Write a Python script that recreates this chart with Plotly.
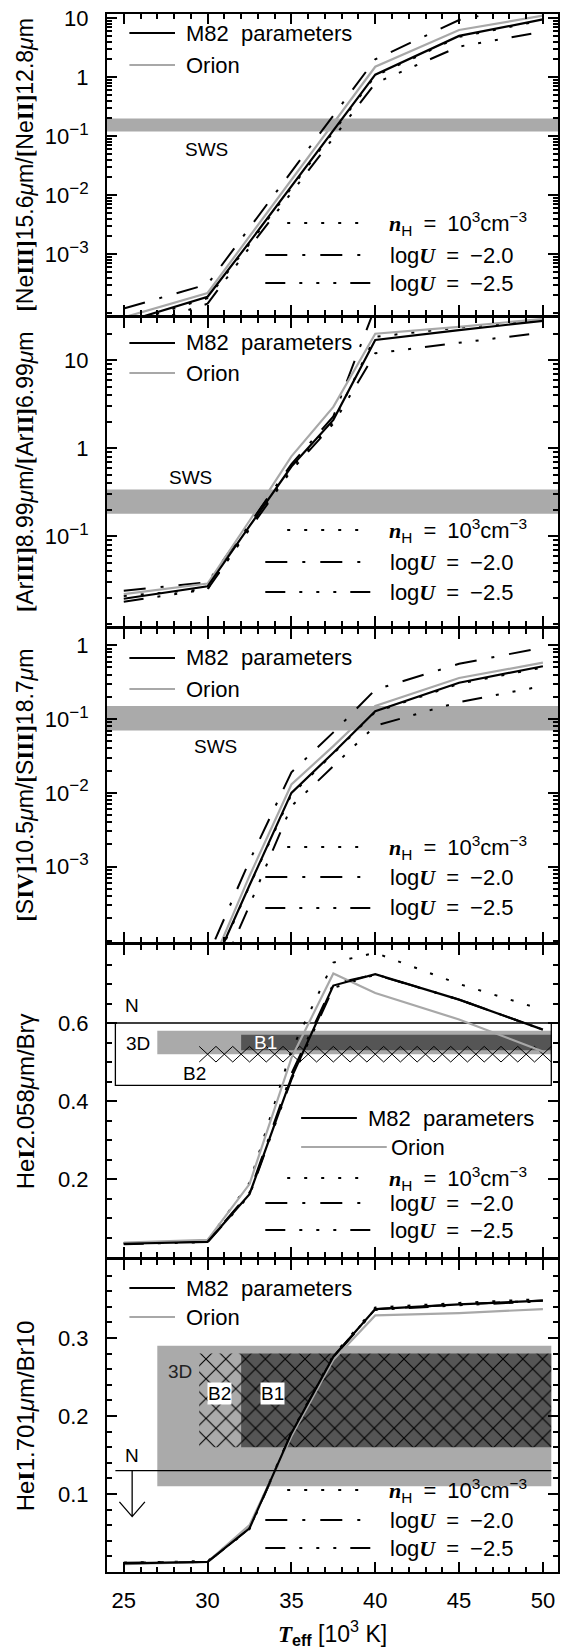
import math
import plotly.graph_objects as go

# ---------------------------------------------------------------- data
teff = [25, 30, 32.5, 35, 37.5, 40, 45, 50]          # T_eff grid [10^3 K]

# [NeIII]15.6um / [NeII]12.8um
ne_m82 = [7.0e-5, 1.9e-4, 1.6e-3, 1.4e-2, 0.125, 1.10, 5.0, 9.5]
ne_orion = [8.5e-5, 2.2e-4, 2.0e-3, 1.8e-2, 0.165, 1.50, 6.3, 11.0]
ne_nh3 = [6.5e-5, 1.8e-4, 1.5e-3, 1.3e-2, 0.118, 1.05, 4.8, 9.2]
ne_logu20 = [1.2e-4, 3.1e-4, 2.8e-3, 2.5e-2, 0.22, 2.0, 9.3, 18.0]
ne_logu25 = [5.0e-5, 1.45e-4, 1.3e-3, 1.1e-2, 0.093, 0.79, 3.3, 5.9]

# [ArIII]8.99um / [ArII]6.99um
ar_m82 = [0.0195, 0.027, 0.13, 0.62, 2.1, 17.0, 22.0, 28.0]
ar_orion = [0.022, 0.029, 0.15, 0.81, 2.95, 20.0, 24.0, 29.5]
ar_nh3 = [0.021, 0.025, 0.125, 0.60, 2.0, 18.5, 23.5, 29.0]
ar_logu20 = [0.024, 0.030, 0.14, 0.66, 2.3, 40.0, 55.0, 65.0]
ar_logu25 = [0.018, 0.025, 0.12, 0.56, 1.9, 12.0, 15.8, 20.6]

# [SIV]10.5um / [SIII]18.7um
s_m82 = [1.0e-5, 3.0e-5, 5.6e-4, 0.010, 0.035, 0.128, 0.31, 0.52]
s_orion = [1.2e-5, 3.5e-5, 7.5e-4, 0.013, 0.043, 0.15, 0.36, 0.58]
s_nh3 = [1.0e-5, 2.8e-5, 5.5e-4, 0.0095, 0.034, 0.125, 0.30, 0.50]
s_logu20 = [2.0e-5, 6.0e-5, 1.2e-3, 0.019, 0.066, 0.25, 0.56, 0.93]
s_logu25 = [5.0e-6, 1.5e-5, 3.0e-4, 0.0066, 0.023, 0.081, 0.17, 0.28]

# HeI2.058um / Br gamma
he2_m82 = [0.034, 0.039, 0.161, 0.46, 0.696, 0.725, 0.66, 0.583]
he2_orion = [0.037, 0.044, 0.187, 0.51, 0.727, 0.677, 0.609, 0.527]
he2_nh3 = [0.036, 0.042, 0.19, 0.53, 0.755, 0.78, 0.70, 0.634]
he2_logu20 = [0.035, 0.040, 0.165, 0.47, 0.70, 0.725, 0.66, 0.583]
he2_logu25 = [0.033, 0.038, 0.158, 0.455, 0.69, 0.724, 0.66, 0.583]

# HeI1.701um / Br10
he1_m82 = [0.011, 0.013, 0.056, 0.178, 0.276, 0.337, 0.343, 0.348]
he1_orion = [0.010, 0.013, 0.060, 0.174, 0.272, 0.329, 0.332, 0.337]
he1_nh3 = [0.012, 0.014, 0.057, 0.179, 0.278, 0.339, 0.345, 0.350]
he1_logu20 = [0.012, 0.013, 0.056, 0.178, 0.276, 0.337, 0.343, 0.348]
he1_logu25 = [0.011, 0.013, 0.055, 0.177, 0.275, 0.336, 0.342, 0.347]

# observed SWS ranges (low, high)
sws_ne = [0.12, 0.20]
sws_ar = [0.18, 0.34]
sws_s = [0.07, 0.15]

# observed HeI2.058/Brg ranges: N (box), 3D, B1, B2  -> x extent, y extent
he2_n_x, he2_n_y = [24.5, 50.5], [0.44, 0.60]
he2_3d_x, he2_3d_y = [27.0, 50.5], [0.52, 0.58]
he2_b1_x, he2_b1_y = [32.0, 50.5], [0.53, 0.57]
he2_b2_x, he2_b2_y = [29.5, 50.5], [0.50, 0.54]

# observed HeI1.701/Br10 ranges
he1_3d_x, he1_3d_y = [27.0, 50.5], [0.11, 0.29]
he1_b2_x, he1_b2_y = [29.5, 32.0], [0.16, 0.28]
he1_b1_x, he1_b1_y = [32.0, 50.5], [0.16, 0.28]
he1_n_x, he1_n_limit = [24.5, 50.5], 0.13

# tick labels
SUP = '<sup><span style="font-size:17px">{}</span></sup>'
x_tickvals = [25, 30, 35, 40, 45, 50]
x_ticktext = ["25", "30", "35", "40", "45", "50"]
ne_tickvals = [1e-3, 1e-2, 1e-1, 1, 10]
ne_ticktext = ["10" + SUP.format("−3"), "10" + SUP.format("−2"), "10" + SUP.format("−1"), "1", "10"]
ar_tickvals = [1e-1, 1, 10]
ar_ticktext = ["10" + SUP.format("−1"), "1", "10"]
s_tickvals = [1e-3, 1e-2, 1e-1, 1]
s_ticktext = ["10" + SUP.format("−3"), "10" + SUP.format("−2"), "10" + SUP.format("−1"), "1"]
he2_tickvals = [0.2, 0.4, 0.6]
he2_ticktext = ["0.2", "0.4", "0.6"]
he1_tickvals = [0.1, 0.2, 0.3]
he1_ticktext = ["0.1", "0.2", "0.3"]

# ---------------------------------------------------------------- style
W, H = 561, 1647
ML, MR, MT, MB = 107, 1, 14, 75
PW, PH = W - ML - MR, H - MT - MB
PANEL_PX = [(14, 315), (318, 626), (629, 942), (945, 1257), (1260, 1572)]

FONT = "Liberation Sans"
SERIF = "Liberation Serif"
FS = 22          # tick labels
FS_LEG = 22      # in-panel legends
FS_TITLE = 23    # axis titles
FS_LAB = 19      # region labels
GRAY = "#a8a8a8"
BAND = "#aaaaaa"
DARK = "#555555"

DOT = "3px,14px"
DASHDOT = "22px,15px,3px,15px"
DASH3DOT = "20px,14px,3px,14px,3px,14px,3px,14px"

STYLES = {
    "nh3": dict(color="black", width=2, dash=DOT),
    "logu20": dict(color="black", width=2, dash=DASHDOT),
    "logu25": dict(color="black", width=2, dash=DASH3DOT),
    "orion": dict(color=GRAY, width=2.2),
    "m82": dict(color="black", width=2.2),
}


def xp(px):
    return (px - ML) / PW


def yp(py):
    return (MT + PH - py) / PH


def rom(s):
    return f'<span style="font-family:{SERIF};font-weight:bold">{s}</span>'


def bi(s):
    return f'<span style="font-family:{SERIF};font-weight:bold;font-style:italic">{s}</span>'


MU = "<i>μ</i>m"
TXT_M82 = "M82\u00a0 parameters"
TXT_ORION = "Orion"
TXT_NH = bi("n") + "<sub>H</sub>\u2002=\u2002" + "10<sup>3</sup>cm<sup>−3</sup>"
TXT_U20 = "log" + bi("U") + "\u2002=\u2002−2.0"
TXT_U25 = "log" + bi("U") + "\u2002=\u2002−2.5"

panels = [
    dict(series=dict(m82=ne_m82, orion=ne_orion, nh3=ne_nh3, logu20=ne_logu20, logu25=ne_logu25),
         log=True, yrange=[-4.03, 1.07], tickvals=ne_tickvals, ticktext=ne_ticktext, minor="D1",
         title=rom("[") + "Ne" + rom("III]") + "15.6" + MU + "/" + rom("[") + "Ne" + rom("II]") + "12.8" + MU,
         tsize=FS_TITLE, sws=sws_ne, sws_lab=(29.96, 0.060),
         top_rows=(33, 65), bot_rows=(223, 255, 283)),
    dict(series=dict(m82=ar_m82, orion=ar_orion, nh3=ar_nh3, logu20=ar_logu20, logu25=ar_logu25),
         log=True, yrange=[-2.02, 1.48], tickvals=ar_tickvals, ticktext=ar_ticktext, minor="D1",
         title=rom("[") + "Ar" + rom("III]") + "8.99" + MU + "/" + rom("[") + "Ar" + rom("II]") + "6.99" + MU,
         tsize=FS_TITLE, sws=sws_ar, sws_lab=(29.0, 0.46),
         top_rows=(343, 373), bot_rows=(530, 562, 592)),
    dict(series=dict(m82=s_m82, orion=s_orion, nh3=s_nh3, logu20=s_logu20, logu25=s_logu25),
         log=True, yrange=[-4.02, 0.22], tickvals=s_tickvals, ticktext=s_ticktext, minor="D1",
         title=rom("[") + "S" + rom("IV]") + "10.5" + MU + "/" + rom("[") + "S" + rom("III]") + "18.7" + MU,
         tsize=FS_TITLE, sws=sws_s, sws_lab=(30.5, 0.043),
         top_rows=(658, 689), bot_rows=(847, 877, 908)),
    dict(series=dict(m82=he2_m82, orion=he2_orion, nh3=he2_nh3, logu20=he2_logu20, logu25=he2_logu25),
         log=False, yrange=[0, 0.8], tickvals=he2_tickvals, ticktext=he2_ticktext, minor=0.05,
         title="He" + rom("I") + "2.058" + MU + "/Brγ",
         tsize=FS_TITLE + 1, sws=None, top_rows=None, bot_rows=(1178, 1203, 1230)),
    dict(series=dict(m82=he1_m82, orion=he1_orion, nh3=he1_nh3, logu20=he1_logu20, logu25=he1_logu25),
         log=False, yrange=[0, 0.4], tickvals=he1_tickvals, ticktext=he1_ticktext, minor=0.02,
         title="He" + rom("I") + "1.701" + MU + "/Br10",
         tsize=FS_TITLE + 1, sws=None, top_rows=(1288, 1317), bot_rows=(1490, 1520, 1548)),
]

fig = go.Figure()
layout = dict(
    width=W, height=H, margin=dict(l=ML, r=MR, t=MT, b=MB),
    paper_bgcolor="white", plot_bgcolor="white", showlegend=False,
    barmode="overlay", font=dict(family=FONT, size=FS, color="black"),
)
shapes, annotations = [], []
tickfont = dict(family=FONT, size=FS, color="black")


def ann(text, x, y, xref, yref, size=FS, **kw):
    d = dict(text=text, x=x, y=y, xref=xref, yref=yref, showarrow=False,
             font=dict(family=FONT, size=size, color=kw.pop("color", "black")))
    d.update(kw)
    annotations.append(d)


def legend_row(y_px, x0, x1, tx, style, text):
    shapes.append(dict(type="line", xref="paper", yref="paper",
                       x0=xp(x0), x1=xp(x1), y0=yp(y_px), y1=yp(y_px),
                       line=dict(color=style["color"], width=2, dash=style.get("dash", "solid"))))
    ann(text, xp(tx), yp(y_px), "paper", "paper", size=FS_LEG, xanchor="left", yanchor="middle")


for i, p in enumerate(panels, start=1):
    sfx = "" if i == 1 else str(i)
    xa, ya = "x" + sfx, "y" + sfx
    last = i == len(panels)
    top_px, bot_px = PANEL_PX[i - 1]

    layout["xaxis" + sfx] = dict(
        domain=[0, 1], range=[24, 50.9], anchor=ya, showgrid=False, zeroline=False,
        showline=True, linewidth=2, linecolor="black", mirror="allticks",
        ticks="inside", ticklen=10, tickwidth=1.5, tickcolor="black",
        tickmode="array", tickvals=x_tickvals, ticktext=x_ticktext,
        showticklabels=last, tickfont=tickfont, ticklabelstandoff=8,
        minor=dict(ticks="inside", ticklen=5, tickwidth=1.5, tickcolor="black",
                   dtick=1, tick0=25, showgrid=False),
    )
    if i > 1:
        layout["xaxis" + sfx]["matches"] = "x"
    layout["yaxis" + sfx] = dict(
        domain=[yp(bot_px), yp(top_px)], anchor=xa, type="log" if p["log"] else "linear",
        range=p["yrange"], showgrid=False, zeroline=False,
        showline=True, linewidth=2, linecolor="black", mirror="allticks",
        ticks="inside", ticklen=10, tickwidth=1.5, tickcolor="black",
        tickmode="array", tickvals=p["tickvals"], ticktext=p["ticktext"],
        tickfont=tickfont, ticklabelstandoff=12,
        minor=dict(ticks="inside", ticklen=5, tickwidth=1.5, tickcolor="black",
                   dtick=p["minor"], showgrid=False),
    )

    # axis title
    ann(p["title"], xp(25), (yp(bot_px) + yp(top_px)) / 2, "paper", "paper", size=p["tsize"],
        textangle=-90, xanchor="center", yanchor="middle")

    # SWS band
    if p["sws"] is not None:
        shapes.append(dict(type="rect", xref=xa + " domain", yref=ya, x0=0, x1=1,
                           y0=p["sws"][0], y1=p["sws"][1], fillcolor=BAND,
                           line=dict(width=0), layer="below"))
        lx, lyv = p["sws_lab"]
        ann("SWS", lx, math.log10(lyv), xa, ya, size=FS_LAB)

    # observed ranges in the HeI panels
    if i == 4:
        shapes.append(dict(type="rect", xref=xa, yref=ya, x0=he2_3d_x[0], x1=he2_3d_x[1],
                           y0=he2_3d_y[0], y1=he2_3d_y[1], fillcolor=BAND, line=dict(width=0), layer="below"))
        shapes.append(dict(type="rect", xref=xa, yref=ya, x0=he2_b1_x[0], x1=he2_b1_x[1],
                           y0=he2_b1_y[0], y1=he2_b1_y[1], fillcolor=DARK, line=dict(width=0), layer="below"))
        shapes.append(dict(type="rect", xref=xa, yref=ya, x0=he2_n_x[0], x1=he2_n_x[1],
                           y0=he2_n_y[0], y1=he2_n_y[1], fillcolor="rgba(0,0,0,0)",
                           line=dict(color="black", width=1.3), layer="below"))
        # single row of crosses for B2
        ncell = 21
        w = (he2_b2_x[1] - he2_b2_x[0]) / ncell
        lo, hi = he2_b2_y
        for phase in (0, 1):
            xs = [he2_b2_x[0] + k * w for k in range(ncell + 1)]
            ys = [hi if (k + phase) % 2 == 0 else lo for k in range(ncell + 1)]
            fig.add_trace(go.Scatter(x=xs, y=ys, mode="lines", xaxis=xa, yaxis=ya,
                                     line=dict(color="black", width=1), hoverinfo="skip"))
        ann("N", 25.5, 0.645, xa, ya, size=FS_LAB)
        ann("3D", 25.87, 0.548, xa, ya, size=FS_LAB)
        ann("B1", 33.47, 0.551, xa, ya, size=FS_LAB, color="white")
        ann("B2", 29.2, 0.471, xa, ya, size=FS_LAB)

    if i == 5:
        shapes.append(dict(type="rect", xref=xa, yref=ya, x0=he1_3d_x[0], x1=he1_3d_x[1],
                           y0=he1_3d_y[0], y1=he1_3d_y[1], fillcolor=BAND, line=dict(width=0), layer="below"))
        for rx, ry, bg in ((he1_b2_x, he1_b2_y, BAND), (he1_b1_x, he1_b1_y, DARK)):
            fig.add_trace(go.Bar(
                x=[(rx[0] + rx[1]) / 2], y=[ry[1] - ry[0]], base=[ry[0]], width=[rx[1] - rx[0]],
                xaxis=xa, yaxis=ya, hoverinfo="skip",
                marker=dict(color=bg, line=dict(width=0),
                            pattern=dict(shape="x", fgcolor="black", bgcolor=bg,
                                         size=14, solidity=0.15, fillmode="replace")),
            ))
        shapes.append(dict(type="line", xref=xa, yref=ya, x0=he1_n_x[0], x1=he1_n_x[1],
                           y0=he1_n_limit, y1=he1_n_limit, line=dict(color="black", width=1.3)))
        ax_x, tip, hw, hh = 25.5, 0.071, 0.76, 0.019
        shapes.append(dict(type="path", xref=xa, yref=ya, line=dict(color="black", width=1.3),
                           path=f"M {ax_x},{he1_n_limit} L {ax_x},{tip} M {ax_x - hw},{tip + hh} "
                                f"L {ax_x},{tip} L {ax_x + hw},{tip + hh}"))
        ann("N", 25.5, 0.149, xa, ya, size=FS_LAB)
        ann("3D", 28.36, 0.257, xa, ya, size=FS_LAB, color="#222222")
        ann("B2", 30.7, 0.229, xa, ya, size=FS_LAB, bgcolor="white", borderpad=0)
        ann("B1", 33.9, 0.229, xa, ya, size=FS_LAB, bgcolor="white", borderpad=0)

    # model curves
    for key in ("nh3", "logu20", "logu25", "orion", "m82"):
        fig.add_trace(go.Scatter(x=teff, y=p["series"][key], mode="lines", xaxis=xa, yaxis=ya,
                                 line=STYLES[key], hoverinfo="skip"))

    # in-panel legends
    if i == 4:
        legend_row(1118, 302, 358, 367, STYLES["m82"], TXT_M82)
        legend_row(1147, 302, 388, 390, STYLES["orion"], TXT_ORION)
    elif p["top_rows"] is not None:
        legend_row(p["top_rows"][0], 129.5, 175.3, 184, STYLES["m82"], TXT_M82)
        legend_row(p["top_rows"][1], 129.5, 175.3, 184, STYLES["orion"], TXT_ORION)
    r1, r2, r3 = p["bot_rows"]
    legend_row(r1, 288, 372, 388, STYLES["nh3"], TXT_NH)
    legend_row(r2, 266, 372, 389, STYLES["logu20"], TXT_U20)
    legend_row(r3, 266, 377, 389, STYLES["logu25"], TXT_U25)

# x-axis title
ann(bi("T") + "<sub><b>eff</b></sub> [10<sup>3</sup> K]", xp(333), yp(1633), "paper", "paper",
    size=FS_TITLE, xanchor="center", yanchor="middle")

layout["shapes"] = shapes
layout["annotations"] = annotations
fig.update_layout(**layout)
fig.write_html("out.html")
